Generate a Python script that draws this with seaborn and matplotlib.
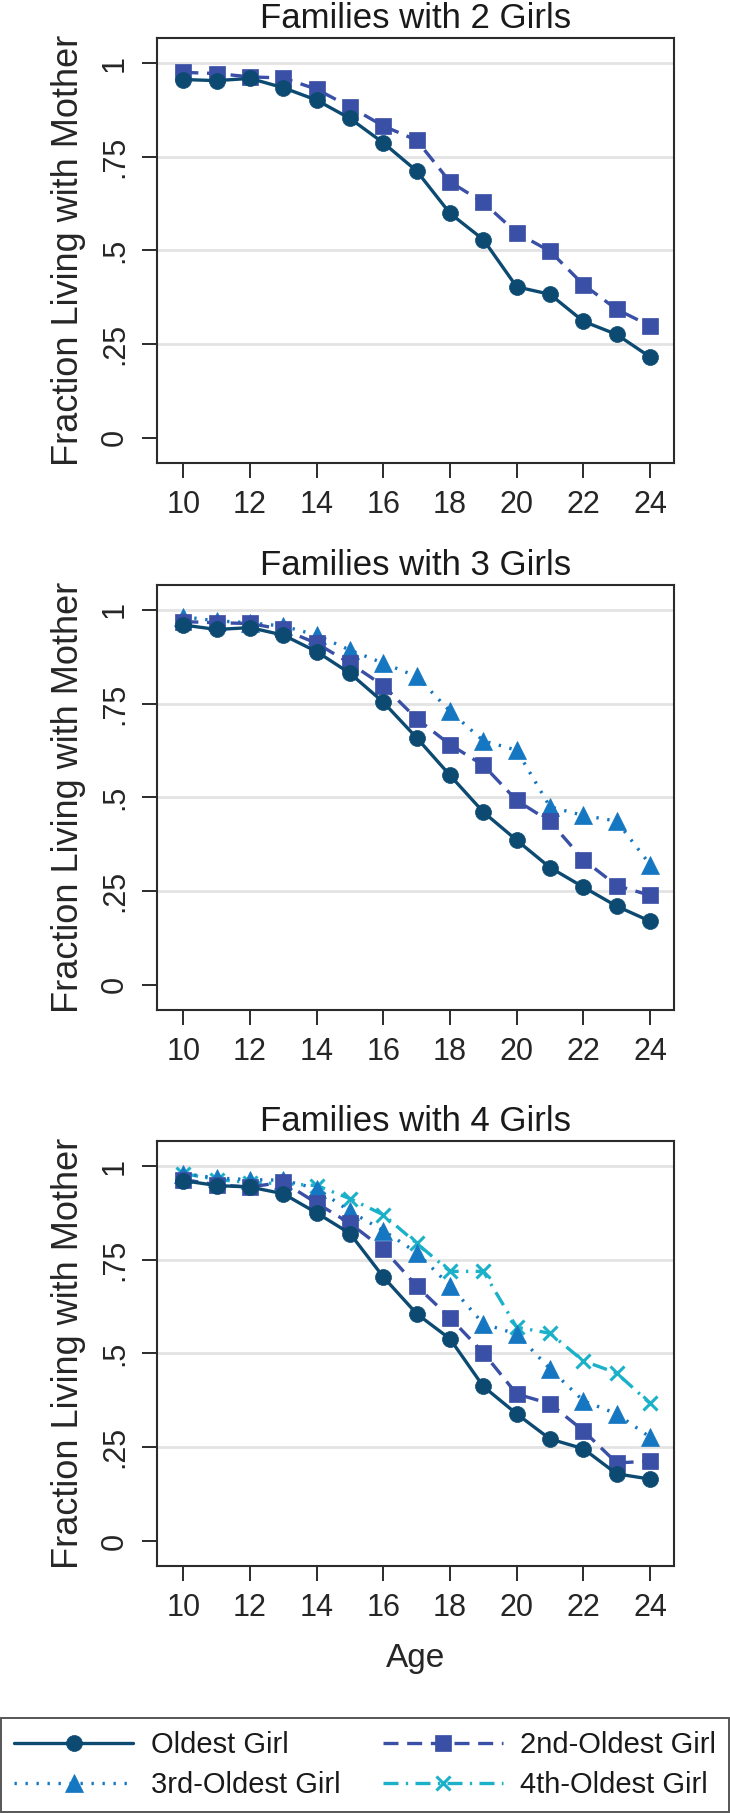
import numpy as np
import pandas as pd
import matplotlib
matplotlib.use("Agg")
import matplotlib.pyplot as plt
import seaborn as sns

# ages on the x axis
ages = list(range(10, 25))

# Families with 2 girls
two_oldest = [0.956, 0.953, 0.959, 0.934, 0.901, 0.852, 0.787, 0.712, 0.599, 0.529, 0.403, 0.383, 0.311, 0.276, 0.216]
two_second = [0.975, 0.972, 0.963, 0.960, 0.930, 0.883, 0.832, 0.794, 0.683, 0.628, 0.547, 0.498, 0.409, 0.343, 0.299]

# Families with 3 girls
three_oldest = [0.960, 0.948, 0.953, 0.933, 0.889, 0.831, 0.754, 0.659, 0.559, 0.461, 0.386, 0.313, 0.261, 0.210, 0.170]
three_second = [0.969, 0.966, 0.964, 0.948, 0.911, 0.858, 0.798, 0.710, 0.641, 0.586, 0.492, 0.436, 0.334, 0.265, 0.239]
three_third = [0.982, 0.971, 0.966, 0.957, 0.933, 0.893, 0.858, 0.823, 0.730, 0.651, 0.626, 0.475, 0.452, 0.437, 0.321]

# Families with 4 girls
four_oldest = [0.961, 0.948, 0.944, 0.926, 0.875, 0.820, 0.704, 0.606, 0.539, 0.412, 0.339, 0.272, 0.246, 0.179, 0.165]
four_second = [0.964, 0.950, 0.944, 0.957, 0.901, 0.847, 0.779, 0.680, 0.595, 0.502, 0.392, 0.366, 0.294, 0.208, 0.213]
four_third = [0.980, 0.968, 0.964, 0.962, 0.940, 0.879, 0.828, 0.769, 0.681, 0.579, 0.552, 0.459, 0.374, 0.339, 0.277]
four_fourth = [0.980, 0.964, 0.956, 0.953, 0.948, 0.913, 0.870, 0.794, 0.719, 0.719, 0.570, 0.554, 0.480, 0.448, 0.367]

series_names = ["Oldest Girl", "2nd-Oldest Girl", "3rd-Oldest Girl", "4th-Oldest Girl"]
panel_titles = ["Families with 2 Girls", "Families with 3 Girls", "Families with 4 Girls"]
panels = [
    [two_oldest, two_second],
    [three_oldest, three_second, three_third],
    [four_oldest, four_second, four_third, four_fourth],
]

colors = ["#0d4a72", "#3a4fa6", "#1577c1", "#1ab1c9"]
markers = ["o", "s", "^", "x"]
msizes = [11.5, 11, 12.5, 9.5]
linestyles = ["-", (0, (4.5, 2.6)), (0, (0.7, 2.6)), (0, (4.5, 2.2, 0.7, 2.2))]

sns.set_theme(style="white")
plt.rcParams["font.family"] = ["Liberation Sans", "DejaVu Sans"]
plt.rcParams["text.color"] = "#1a1a1a"

fig = plt.figure(figsize=(7.3, 18.13), dpi=100)

# axes boxes (left, bottom, width, height) in figure fractions
left, width, height = 0.2151, 0.7082, 0.2345
bottoms = [0.7446, 0.4429, 0.1362]

legend_lines = {}
for i, (title, data) in enumerate(zip(panel_titles, panels)):
    ax = fig.add_axes([left, bottoms[i], width, height])
    for g in [0.25, 0.5, 0.75, 1.0]:
        ax.axhline(g, color="#e3e3e3", lw=2.0, zorder=0)
    # draw in reverse so the oldest girl sits on top
    for j in reversed(range(len(data))):
        sns.lineplot(x=ages, y=data[j], ax=ax, color=colors[j], marker=markers[j],
                     markersize=msizes[j], markeredgecolor=colors[j],
                     markeredgewidth=2.2 if markers[j] == "x" else 0.5,
                     linestyle=linestyles[j], linewidth=2.4, zorder=3 + (4 - j))
        legend_lines[j] = ax.lines[-1]

    ax.set_xlim(9.21, 24.72)
    ax.set_ylim(-0.067, 1.067)
    ax.set_xticks(range(10, 25, 2))
    ax.set_yticks([0, 0.25, 0.5, 0.75, 1.0])
    ax.set_yticklabels(["0", ".25", ".5", ".75", "1"])
    ax.tick_params(axis="both", length=10.5, width=1.4, color="#2b2b2b",
                   labelsize=22, pad=9, bottom=True, left=True)
    ax.tick_params(axis="y", labelrotation=90)
    for lab in ax.get_yticklabels():
        lab.set_va("center")
    for sp in ax.spines.values():
        sp.set_color("#2b2b2b")
        sp.set_linewidth(1.5)
    ax.set_title(title, fontsize=25, pad=7)
    ax.set_ylabel("Fraction Living with Mother", fontsize=26, labelpad=10)
    if i == 2:
        ax.set_xlabel("Age", fontsize=24, labelpad=14)
    else:
        ax.set_xlabel("")

# legend ordered so rows read: Oldest / 2nd, then 3rd / 4th
order = [0, 2, 1, 3]
leg = fig.legend([legend_lines[k] for k in order], [series_names[k] for k in order],
                 ncol=2, loc="lower left", bbox_to_anchor=(0.001, 0.0006, 0.998, 0.058),
                 mode="expand", fontsize=21, frameon=True, fancybox=False,
                 edgecolor="#2b2b2b", handlelength=4.1, handletextpad=0.6,
                 columnspacing=1.0, labelspacing=0.4, borderpad=0.45, borderaxespad=0.0)
leg.get_frame().set_linewidth(1.4)

fig.savefig("out.png", dpi=100, facecolor="white")
